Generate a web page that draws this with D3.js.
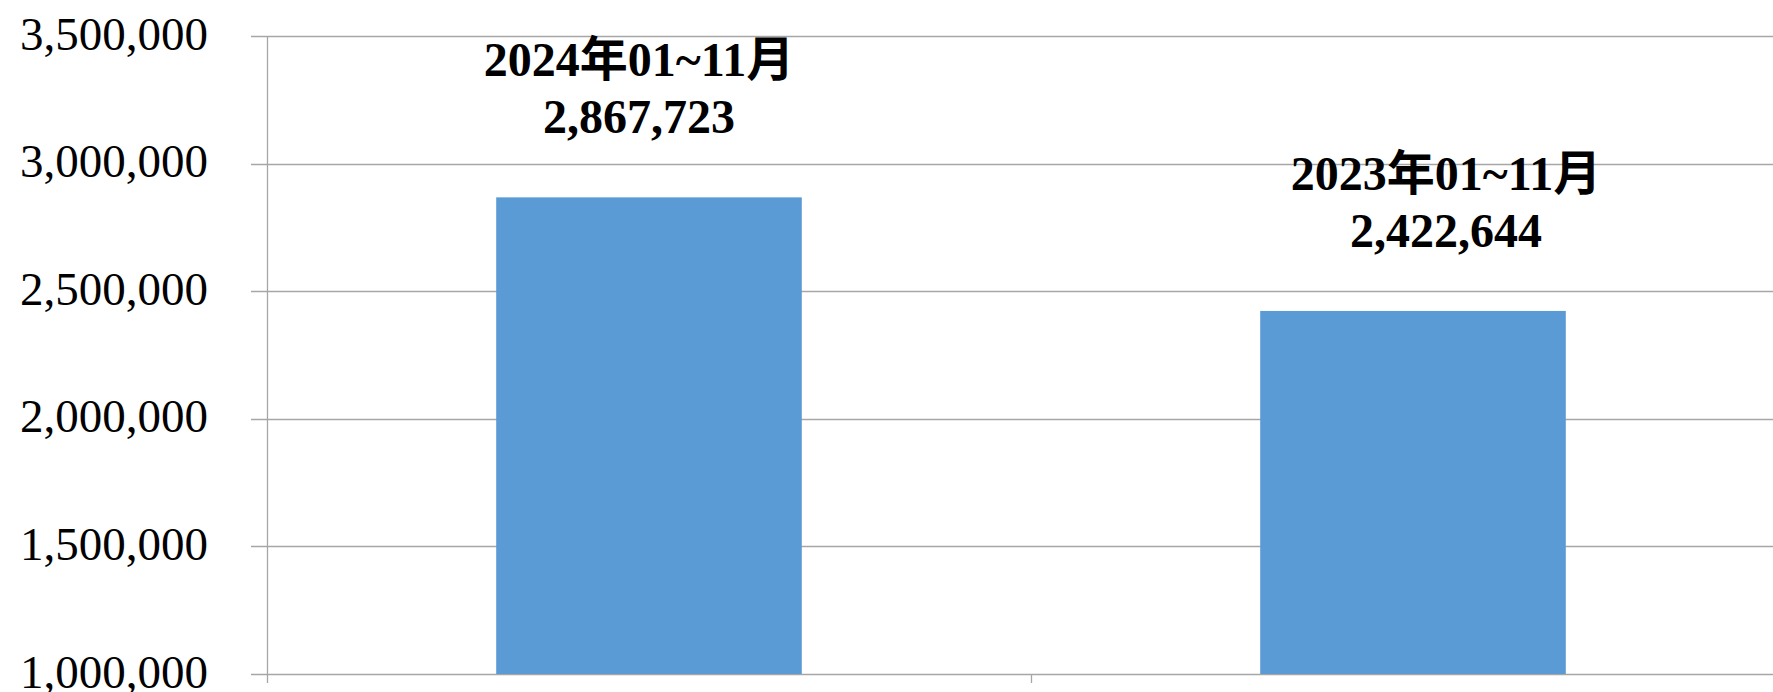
<!DOCTYPE html>
<html>
<head>
<meta charset="utf-8">
<script src="https://cdn.jsdelivr.net/npm/d3@7"></script>
<style>
  html, body { margin: 0; padding: 0; background: #fff; }
  svg { display: block; }
</style>
</head>
<body>
<div id="chart"></div>
<script>
// Data
const categories = ["2024年01~11月", "2023年01~11月"];
const values = [2867723, 2422644];
const yTicks = [1000000, 1500000, 2000000, 2500000, 3000000, 3500000];

const width = 1773;
const height = 692;
const margin = { left: 267, right: -22, top: 36, bottom: 18 };

const svg = d3.select("#chart").append("svg")
    .attr("width", width)
    .attr("height", height);

const x = d3.scaleBand()
    .domain(categories)
    .range([margin.left, width - margin.right])
    .paddingInner(0.6)
    .paddingOuter(0.3);

const y = d3.scaleLinear()
    .domain([1000000, 3500000])
    .range([height - margin.bottom, margin.top]);

const fmt = d3.format(",");
const gridColor = "#a6a6a6";

// Gridlines (with the little tick stubs left of the axis)
svg.append("g")
    .selectAll("line")
    .data(yTicks)
    .join("line")
    .attr("x1", margin.left - 16)
    .attr("x2", width)
    .attr("y1", d => Math.round(y(d)) + 0.5)
    .attr("y2", d => Math.round(y(d)) + 0.5)
    .attr("stroke", gridColor)
    .attr("stroke-width", 1.3);

// Y axis tick labels
svg.append("g")
    .selectAll("text")
    .data(yTicks)
    .join("text")
    .attr("x", 208)
    .attr("y", d => y(d))
    .attr("dy", "0.29em")
    .attr("text-anchor", "end")
    .style("font-family", "'Liberation Serif', 'Times New Roman', serif")
    .style("font-size", "47px")
    .attr("fill", "#000")
    .text(d => fmt(d));

// Bars
svg.append("g")
    .selectAll("rect")
    .data(values)
    .join("rect")
    .attr("x", (d, i) => x(categories[i]))
    .attr("width", x.bandwidth())
    .attr("y", d => y(d))
    .attr("height", d => y(1000000) - y(d))
    .attr("fill", "#5b9bd5");

// Y axis line
svg.append("line")
    .attr("x1", margin.left + 0.5)
    .attr("x2", margin.left + 0.5)
    .attr("y1", y(3500000))
    .attr("y2", y(1000000) + 9)
    .attr("stroke", gridColor)
    .attr("stroke-width", 1.3);

// Category separator ticks on x axis
const step = x.step();
const seps = categories.slice(1).map(c => x(c) - step * 0.3);
svg.append("g")
    .selectAll("line")
    .data(seps)
    .join("line")
    .attr("x1", d => Math.round(d) + 0.5)
    .attr("x2", d => Math.round(d) + 0.5)
    .attr("y1", y(1000000))
    .attr("y2", y(1000000) + 9)
    .attr("stroke", gridColor)
    .attr("stroke-width", 1.3);

// Data labels (manually placed, as in the source chart)
const labelShift = [-10, 33];
const labels = svg.append("g")
    .selectAll("text")
    .data(values)
    .join("text")
    .attr("text-anchor", "middle")
    .style("font-family", "'Liberation Serif', 'Noto Sans CJK TC', serif")
    .style("font-weight", "bold")
    .style("font-size", "48px")
    .attr("fill", "#000");

labels.append("tspan")
    .attr("x", (d, i) => x(categories[i]) + x.bandwidth() / 2 + labelShift[i])
    .attr("y", d => y(d) - 121)
    .text((d, i) => categories[i]);

labels.append("tspan")
    .attr("x", (d, i) => x(categories[i]) + x.bandwidth() / 2 + labelShift[i])
    .attr("y", d => y(d) - 64)
    .text(d => fmt(d));
</script>
</body>
</html>
